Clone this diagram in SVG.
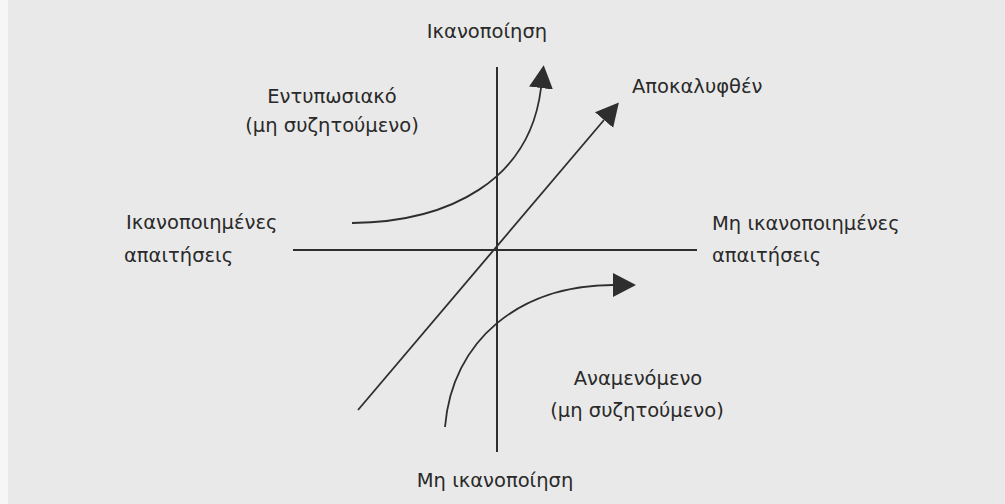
<svg xmlns="http://www.w3.org/2000/svg" width="1005" height="504" viewBox="0 0 1005 504">
<defs>
<style>
.t{font-family:"DejaVu Sans","Liberation Sans",sans-serif;font-size:19.5px;fill:#2a2a2a}
.ax{stroke:#2e2e2e;stroke-width:2;fill:none}
.cv{stroke:#2e2e2e;stroke-width:1.8;fill:none}
</style>
<marker id="ah" markerUnits="userSpaceOnUse" markerWidth="26" markerHeight="26" refX="0" refY="12" orient="auto">
<path d="M0,0 L23,12 L0,24 z" fill="#2e2e2e"/>
</marker>
</defs>
<rect x="0" y="0" width="1005" height="504" fill="#e9e9e9"/>
<rect x="0" y="0" width="8" height="504" fill="#f6f6f6"/>
<g id="connectors">
<line class="ax" x1="497" y1="67" x2="497" y2="452"/>
<line class="ax" x1="293" y1="250" x2="697" y2="250"/>
<path class="cv" d="M352,223 C450,222 530,180 541,88" marker-end="url(#ah)"/>
<path class="cv" d="M358,410 L604,120" marker-end="url(#ah)"/>
<path class="cv" d="M445,427 C452,340 520,285 613,285" marker-end="url(#ah)"/>
</g>
<g id="satisfaction"><text class="t" x="487" y="38" text-anchor="middle">Ικανοποίηση</text></g>
<g id="dissatisfaction"><text class="t" x="495" y="487" text-anchor="middle">Μη ικανοποίηση</text></g>
<g id="exciting"><text class="t" x="332" y="103" text-anchor="middle">Εντυπωσιακό</text><text class="t" x="332" y="132" text-anchor="middle">(μη συζητούμενο)</text></g>
<g id="fulfilled"><text class="t" x="126" y="229">Ικανοποιημένες</text><text class="t" x="124" y="262">απαιτήσεις</text></g>
<g id="revealed"><text class="t" x="632" y="93">Αποκαλυφθέν</text></g>
<g id="unfulfilled"><text class="t" x="712" y="230">Μη ικανοποιημένες</text><text class="t" x="712" y="262">απαιτήσεις</text></g>
<g id="expected"><text class="t" x="638" y="385" text-anchor="middle">Αναμενόμενο</text><text class="t" x="637" y="417" text-anchor="middle">(μη συζητούμενο)</text></g>
</svg>
